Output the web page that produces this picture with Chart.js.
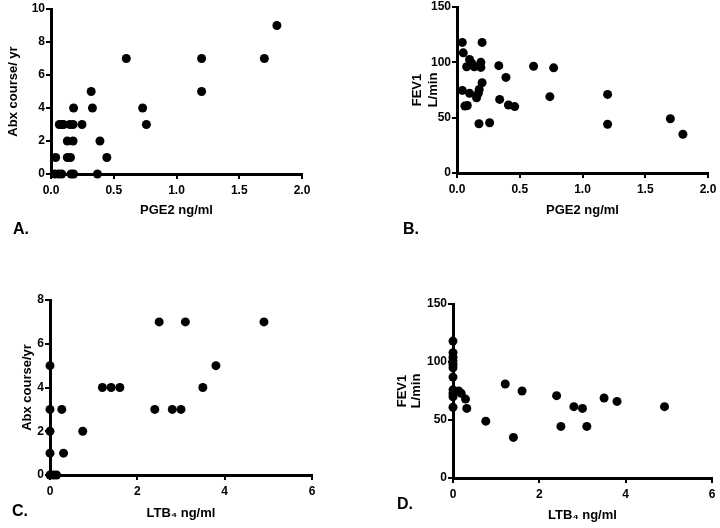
<!DOCTYPE html>
<html>
<head>
<meta charset="utf-8">
<script src="https://cdn.jsdelivr.net/npm/chart.js@4.4.0/dist/chart.umd.min.js"></script>
<style>
  html, body { margin: 0; padding: 0; background: #fff; }
  body { width: 720px; height: 528px; position: relative; overflow: hidden; font-family: "Liberation Sans", Arial, sans-serif; }
  .panel { position: absolute; }
  .tag { position: absolute; font-weight: bold; font-size: 16px; line-height: 16px; color: #000; }
</style>
</head>
<body>
<div class="panel" style="left:-9px;top:-1px;width:325px;height:225px"><canvas id="chartA"></canvas></div>
<div class="panel" style="left:397px;top:-3px;width:325px;height:226px"><canvas id="chartB"></canvas></div>
<div class="panel" style="left:-10px;top:290px;width:336px;height:235px"><canvas id="chartC"></canvas></div>
<div class="panel" style="left:393px;top:294px;width:333px;height:234px"><canvas id="chartD"></canvas></div>
<div class="tag" style="left:13px;top:221px">A.</div>
<div class="tag" style="left:403px;top:221px">B.</div>
<div class="tag" style="left:12px;top:503px">C.</div>
<div class="tag" style="left:397px;top:496px">D.</div>
<script>
// A: PGE2 vs antibiotic courses
const pgeA = [1.8, 0.6, 1.2, 1.7, 1.2, 0.32, 0.18, 0.33, 0.73,
  0.066, 0.084, 0.10, 0.15, 0.176, 0.247, 0.76,
  0.13, 0.176, 0.39, 0.037, 0.13, 0.155, 0.445,
  0.03, 0.06, 0.085, 0.16, 0.18, 0.37];
const abxA = [9, 7, 7, 7, 5, 5, 4, 4, 4,
  3, 3, 3, 3, 3, 3, 3,
  2, 2, 2, 1, 1, 1, 1,
  0, 0, 0, 0, 0, 0];

// B: PGE2 vs FEV1
const pgeB = [0.042, 0.2, 0.05, 0.1, 0.116, 0.077, 0.137, 0.19, 0.19, 0.333, 0.39, 0.2,
  0.042, 0.177, 0.1, 0.17, 0.156, 0.34, 0.063, 0.082, 0.41, 0.46, 0.175, 0.26,
  0.61, 0.77, 0.74, 1.2, 1.2, 1.7, 1.8];
const fevB = [118, 118, 108.6, 102.6, 99.5, 96, 96, 100, 95.4, 97, 86.4, 81.5,
  74.6, 75.5, 72, 72, 68, 66.5, 60.5, 61, 61.4, 60, 44.5, 45.4,
  96.5, 95, 69, 71, 44, 49, 35];

// C: LTB4 vs antibiotic courses
const ltbC = [0, 0, 0, 0, 0, 0.08, 0.15, 0.27, 0.31, 0.75, 1.2, 1.4, 1.6,
  2.5, 3.1, 4.9, 2.4, 2.8, 3.0, 3.5, 3.8];
const abxC = [5, 3, 2, 1, 0, 0, 0, 3, 1, 2, 4, 4, 4,
  7, 7, 7, 3, 3, 3, 4, 5];

// D: LTB4 vs FEV1
const ltbD = [0, 0, 0, 0, 0, 0, 0, 0, 0, 0, 0,
  0.13, 0.19, 0.29, 0.32, 0.76, 1.21, 1.4, 1.6, 2.4, 2.5, 2.8, 3.0, 3.1, 3.5, 3.8, 4.9];
const fevD = [118, 108, 104, 101, 98, 95, 87, 76, 73, 70, 61,
  75, 73, 68, 60, 49, 81, 35, 75, 71, 44.5, 61.5, 60, 44.5, 69, 66, 61.5];

// tick labels
const pgeTicks = [0, 0.5, 1, 1.5, 2];
const ltbTicks = [0, 2, 4, 6];
const abxTicksA = [0, 2, 4, 6, 8, 10];
const abxTicksC = [0, 2, 4, 6, 8];
const fevTicks = [0, 50, 100, 150];

Chart.defaults.font.family = '"Liberation Sans", Arial, sans-serif';
Chart.defaults.color = '#000';

function axisOpts(ticks, title, decimals, isX, pad, lineHeight) {
  return {
    type: 'linear',
    min: ticks[0],
    max: ticks[ticks.length - 1],
    afterBuildTicks: (s) => { s.ticks = ticks.map(v => ({ value: v })); },
    afterFit: (s) => { if (isX) s.height = 50; else s.width = 60; },
    grid: { drawOnChartArea: false, drawTicks: true, tickLength: 5, tickWidth: 2, tickColor: '#000', color: '#000', lineWidth: 2 },
    border: { display: true, color: '#000', width: 3 },
    ticks: {
      color: '#000',
      font: { size: 12, weight: 'bold' },
      padding: isX ? 4 : 1,
      maxRotation: 0,
      autoSkip: false,
      callback: (v) => Number(v).toFixed(decimals)
    },
    title: {
      display: true,
      text: title,
      color: '#000',
      font: { size: 13, weight: 'bold', lineHeight: lineHeight || 1.2 },
      padding: isX ? { top: 0, bottom: pad } : { top: pad, bottom: 0 }
    }
  };
}

function buildScatter(id, xs, ys, xAxis, yAxis) {
  const points = xs.map((x, i) => ({ x: x, y: ys[i] }));
  return new Chart(document.getElementById(id), {
    type: 'scatter',
    data: {
      datasets: [{
        data: points,
        backgroundColor: '#000',
        borderColor: '#000',
        borderWidth: 0,
        pointRadius: 4.5,
        pointHoverRadius: 4.5,
        clip: false
      }]
    },
    options: {
      responsive: true,
      maintainAspectRatio: false,
      animation: false,
      layout: { padding: { top: 10, right: 14, left: 0, bottom: 0 } },
      plugins: { legend: { display: false }, tooltip: { enabled: false } },
      scales: { x: xAxis, y: yAxis }
    }
  });
}

buildScatter('chartA', pgeA, abxA,
  axisOpts(pgeTicks, 'PGE2 ng/ml', 1, true, 6),
  axisOpts(abxTicksA, 'Abx course/ yr', 0, false, 15));

buildScatter('chartB', pgeB, fevB,
  axisOpts(pgeTicks, 'PGE2 ng/ml', 1, true, 5),
  axisOpts(fevTicks, ['FEV1', 'L/min'], 0, false, 11.5, 1.3));

buildScatter('chartC', ltbC, abxC,
  axisOpts(ltbTicks, 'LTB₄ ng/ml', 0, true, 4),
  axisOpts(abxTicksC, 'Abx course/yr', 0, false, 30));

buildScatter('chartD', ltbD, fevD,
  axisOpts(ltbTicks, 'LTB₄ ng/ml', 0, true, 5),
  axisOpts(fevTicks, ['FEV1', 'L/min'], 0, false, 2, 1.08));
</script>
</body>
</html>
